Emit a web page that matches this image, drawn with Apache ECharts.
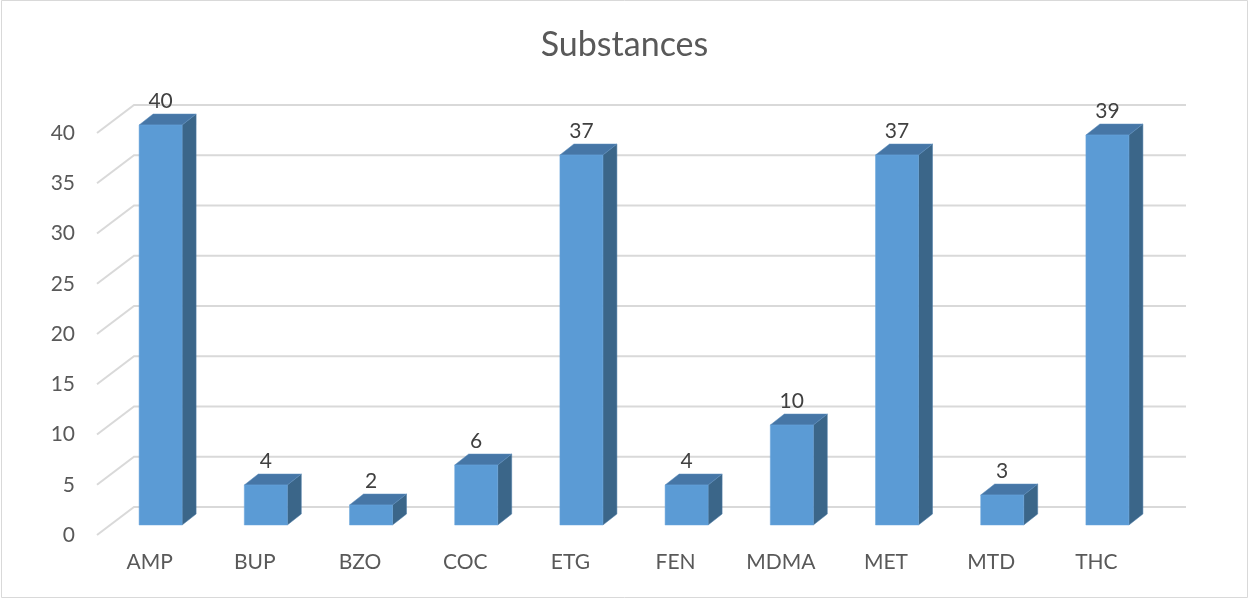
<!DOCTYPE html>
<html>
<head>
<meta charset="utf-8">
<script src="https://cdn.jsdelivr.net/npm/echarts@6/dist/echarts.min.js"></script>
<style>html,body{margin:0;padding:0;background:#fff;}#c{width:1249px;height:600px;}</style>
</head>
<body>
<div id="c"></div>
<script>
const categories = ['AMP','BUP','BZO','COC','ETG','FEN','MDMA','MET','MTD','THC'];
const values = [40, 4, 2, 6, 37, 4, 10, 37, 3, 39];
const yTicks = [0, 5, 10, 15, 20, 25, 30, 35, 40];

const FONT = 'Lato';
const chart = echarts.init(document.getElementById('c'));

const DEPTH_X = 37, DEPTH_Y = 28;   // wall depth offset
const BAR_W = 43, BAR_DX = 14, BAR_DY = 11;

chart.setOption({
  animation: false,
  backgroundColor: '#fff',
  title: {
    text: 'Substances', left: 'center', top: 23,
    textStyle: { fontFamily: FONT, fontSize: 34, fontWeight: 'normal', color: '#595959' }
  },
  graphic: [{
    type: 'rect', shape: { x: 1.5, y: 0.5, width: 1246, height: 597 },
    style: { fill: 'none', stroke: '#d9d9d9', lineWidth: 1 }, silent: true
  }],
  grid: { left: 97, right: 100, top: 133, bottom: 65 },
  xAxis: {
    type: 'category', data: categories,
    axisLine: { show: false }, axisTick: { show: false },
    axisLabel: { fontFamily: FONT, fontSize: 21, color: '#595959', margin: 17 }
  },
  yAxis: {
    type: 'value', min: 0, max: 40, interval: 5,
    axisLine: { show: false }, axisTick: { show: false }, splitLine: { show: false },
    axisLabel: { fontFamily: FONT, fontSize: 21, color: '#595959', margin: 22 }
  },
  series: [{
    type: 'custom', z: 1, silent: true,
    data: yTicks.map(t => [0, t]),
    renderItem: function (params, api) {
      const cs = params.coordSys;
      const y = api.coord([0, api.value(1)])[1];
      const x0 = cs.x;
      return {
        type: 'polyline',
        shape: { points: [[x0, y], [x0 + DEPTH_X, y - DEPTH_Y], [x0 + DEPTH_X + cs.width, y - DEPTH_Y]] },
        style: { stroke: '#d9d9d9', lineWidth: 2, fill: null }
      };
    }
  }, {
    type: 'custom', z: 5, silent: true,
    data: values.map((v, i) => [i, v]),
    renderItem: function (params, api) {
      const i = api.value(0), v = api.value(1);
      const base = api.coord([i, 0]);
      const topP = api.coord([i, v]);
      const h = (base[1] - topP[1]) * 0.995;
      const xl = base[0] - 10.5, xr = xl + BAR_W;
      const yb = base[1] - 10, yt = yb - h;
      return {
        type: 'group',
        children: [{
          type: 'polygon',
          shape: { points: [[xr, yb], [xr + BAR_DX, yb - BAR_DY], [xr + BAR_DX, yt - BAR_DY], [xr, yt]] },
          style: { fill: '#3b6689', stroke: '#4a7aa6', lineWidth: 0.5 }
        }, {
          type: 'polygon',
          shape: { points: [[xl, yt], [xl + BAR_DX, yt - BAR_DY], [xr + BAR_DX, yt - BAR_DY], [xr, yt]] },
          style: { fill: '#4676a6', stroke: '#5a8cbc', lineWidth: 0.5 }
        }, {
          type: 'rect',
          shape: { x: xl, y: yt, width: BAR_W, height: h },
          style: { fill: '#5b9bd5', stroke: '#6aa6dc', lineWidth: 0.5 }
        }, {
          type: 'text',
          style: {
            text: String(v), x: (xl + xr) / 2, y: yt - 24,
            align: 'center', verticalAlign: 'middle',
            fontFamily: FONT, fontSize: 21, fill: '#404040'
          }
        }]
      };
    }
  }]
});
</script>
</body>
</html>
